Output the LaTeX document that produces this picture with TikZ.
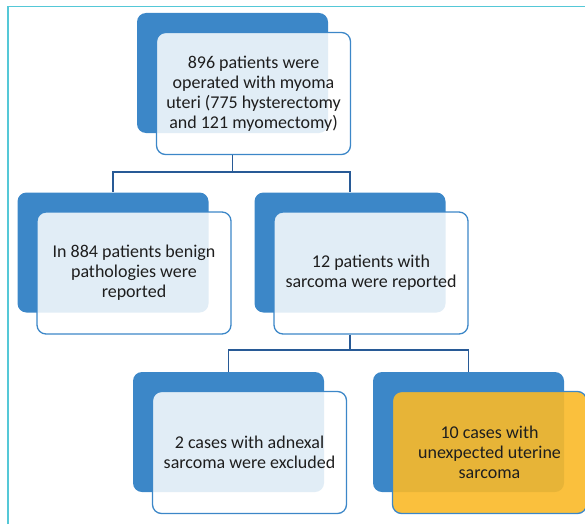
\documentclass[tikz,border=0pt]{standalone}
\usepackage{fontspec}
\setmainfont{Carlito}
\usetikzlibrary{positioning}
\definecolor{backblue}{RGB}{60,135,200}
\definecolor{linkblue}{RGB}{40,90,150}
\definecolor{framecyan}{RGB}{85,200,215}
\definecolor{resultorange}{RGB}{250,185,40}
\definecolor{labeltext}{RGB}{30,30,30}
\tikzset{
  backbox/.style={fill=backblue, rounded corners=9pt,
    minimum width=191pt, minimum height=120pt},
  frontbox/.style={draw=backblue, line width=1.3pt, fill opacity=0.85, text opacity=1,
    rounded corners=9pt, minimum width=194pt, minimum height=122pt,
    align=center, text=labeltext, font=\fontsize{18}{20}\selectfont},
  link/.style={draw=linkblue, line width=1.4pt},
}
\newcommand{\stagebox}[5]{%
  \node[backbox] (#1back) at (#2,#3) {};
  \node[frontbox,fill=#4] (#1) at ([shift={(21,20.5)}]#1back.center) {#5};}

\begin{document}
\begin{tikzpicture}[x=1pt,y=-1pt]
\useasboundingbox (0,0) rectangle (585,524);
\draw[framecyan,line width=1.6pt] (8,524) -- (8,6.5) -- (585,6.5);
\stagebox{operated}{232.5}{73}{white}{896 patients were\\operated with myoma\\uteri (775 hysterectomy\\and 121 myomectomy)}
\stagebox{benign}{113}{252.5}{white}{In 884 patients benign\\pathologies were\\reported}
\stagebox{sarcoma}{350}{252.5}{white}{12 patients with\\sarcoma were reported}
\stagebox{adnexal}{228.5}{432}{white}{2 cases with adnexal\\sarcoma were excluded}
\stagebox{uterine}{468.5}{432}{resultorange,fill opacity=0.9}{10 cases with\\unexpected uterine\\sarcoma}
\coordinate (forkA) at (232.5,172);
\coordinate (forkB) at (350,350);
\draw[link] (operatedback |- operated.south) -- (forkA);
\draw[link] (forkA) -| (benignback.north);
\draw[link] (forkA) -| (sarcomaback.north);
\draw[link] (sarcomaback |- sarcoma.south) -- (forkB);
\draw[link] (forkB) -| (adnexalback.north);
\draw[link] (forkB) -| (uterineback.north);
\end{tikzpicture}
\end{document}
